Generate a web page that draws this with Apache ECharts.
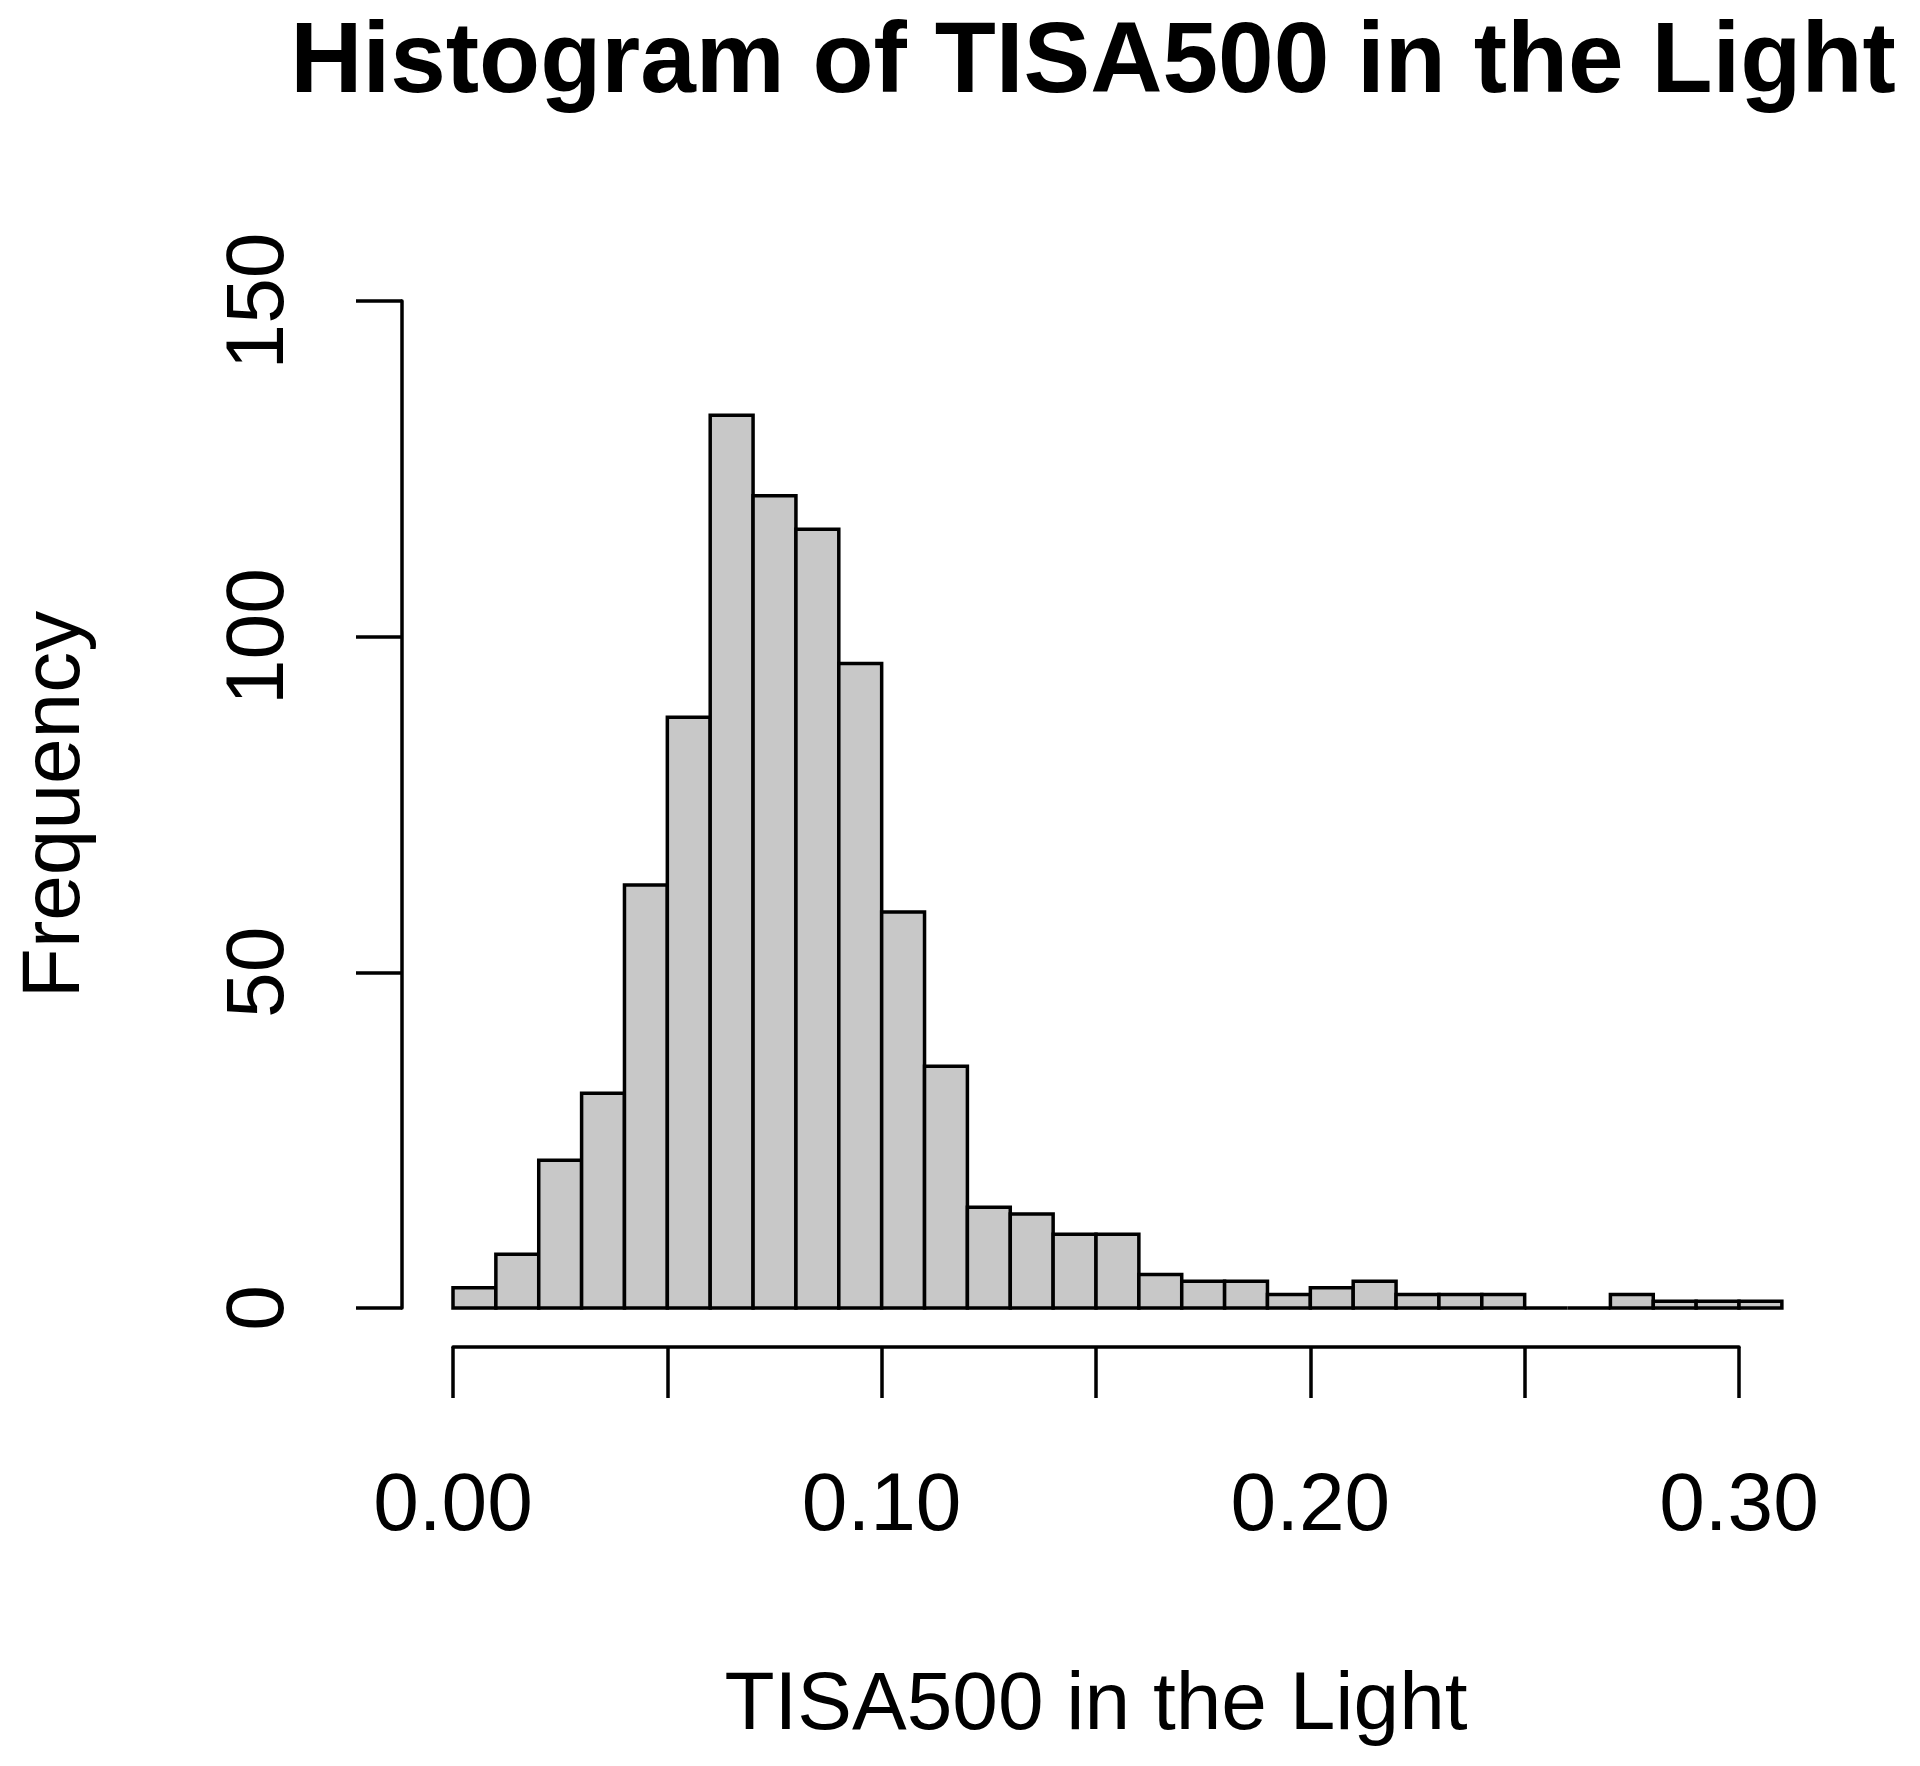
<!DOCTYPE html>
<html>
<head>
<meta charset="utf-8">
<script src="https://cdn.jsdelivr.net/npm/echarts@6/dist/echarts.min.js"></script>
<style>
    html, body { margin: 0; padding: 0; background: #fff; }
    #chart { width: 1920px; height: 1766px; }
</style>
</head>
<body>
<div id="chart"></div>
<script>
// histogram bins (left edge, right edge) and counts
const binStart = [0.00, 0.01, 0.02, 0.03, 0.04, 0.05, 0.06, 0.07, 0.08, 0.09,
                  0.10, 0.11, 0.12, 0.13, 0.14, 0.15, 0.16, 0.17, 0.18, 0.19,
                  0.20, 0.21, 0.22, 0.23, 0.24, 0.25, 0.26, 0.27, 0.28, 0.29, 0.30];
const binEnd = [0.01, 0.02, 0.03, 0.04, 0.05, 0.06, 0.07, 0.08, 0.09, 0.10,
                0.11, 0.12, 0.13, 0.14, 0.15, 0.16, 0.17, 0.18, 0.19, 0.20,
                0.21, 0.22, 0.23, 0.24, 0.25, 0.26, 0.27, 0.28, 0.29, 0.30, 0.31];
const counts = [3, 8, 22, 32, 63, 88, 133, 121, 116, 96,
                59, 36, 15, 14, 11, 11, 5, 4, 4, 2,
                3, 4, 2, 2, 2, 0, 0, 2, 1, 1, 1];
const xTickLabels = ['0.00', '0.10', '0.20', '0.30'];
const yTicks = [0, 50, 100, 150];

const font = 'Liberation Sans, Arial, Helvetica, sans-serif';
const chart = echarts.init(document.getElementById('chart'));

chart.setOption({
    backgroundColor: '#fff',
    animation: false,
    title: {
        text: 'Histogram of TISA500 in the Light',
        left: 1088,
        top: 9,
        textAlign: 'center',
        textStyle: { fontFamily: font, fontSize: 100, fontWeight: 'bold', color: '#000' }
    },
    grid: { left: 453, right: 181, top: 301, bottom: 458 },
    xAxis: {
        type: 'value',
        min: 0,
        max: 0.3,
        interval: 0.05,
        offset: 39,
        name: 'TISA500 in the Light',
        nameLocation: 'middle',
        nameGap: 318,
        nameTextStyle: { fontFamily: font, fontSize: 82, color: '#000' },
        axisLine: { onZero: false, lineStyle: { color: '#000', width: 3.5 } },
        axisTick: { length: 51, lineStyle: { color: '#000', width: 3.5 } },
        axisLabel: {
            fontFamily: font, fontSize: 82, color: '#000', margin: 119,
            formatter: v => {
                const i = Math.round(v * 10);
                return Math.abs(v * 10 - i) < 1e-6 ? xTickLabels[i] : '';
            }
        },
        splitLine: { show: false }
    },
    yAxis: {
        type: 'value',
        min: yTicks[0],
        max: yTicks[yTicks.length - 1],
        interval: 50,
        offset: 51,
        name: 'Frequency',
        nameLocation: 'middle',
        nameGap: 305,
        nameTextStyle: { fontFamily: font, fontSize: 82, color: '#000' },
        axisLine: { show: true, onZero: false, lineStyle: { color: '#000', width: 3.5 } },
        axisTick: { show: true, length: 46, lineStyle: { color: '#000', width: 3.5 } },
        axisLabel: { fontFamily: font, fontSize: 82, color: '#000', rotate: 90, margin: 101 },
        splitLine: { show: false }
    },
    series: [{
        type: 'custom',
        data: counts.map((c, i) => [binStart[i], binEnd[i], c]),
        encode: { x: [0, 1], y: 2 },
        renderItem: (params, api) => {
            const p0 = api.coord([api.value(0), api.value(2)]);
            const p1 = api.coord([api.value(1), 0]);
            return {
                type: 'rect',
                shape: { x: p0[0], y: p0[1], width: p1[0] - p0[0], height: p1[1] - p0[1] },
                style: { fill: '#c8c8c8', stroke: '#000', lineWidth: 3.5 }
            };
        }
    }]
});
</script>
</body>
</html>
